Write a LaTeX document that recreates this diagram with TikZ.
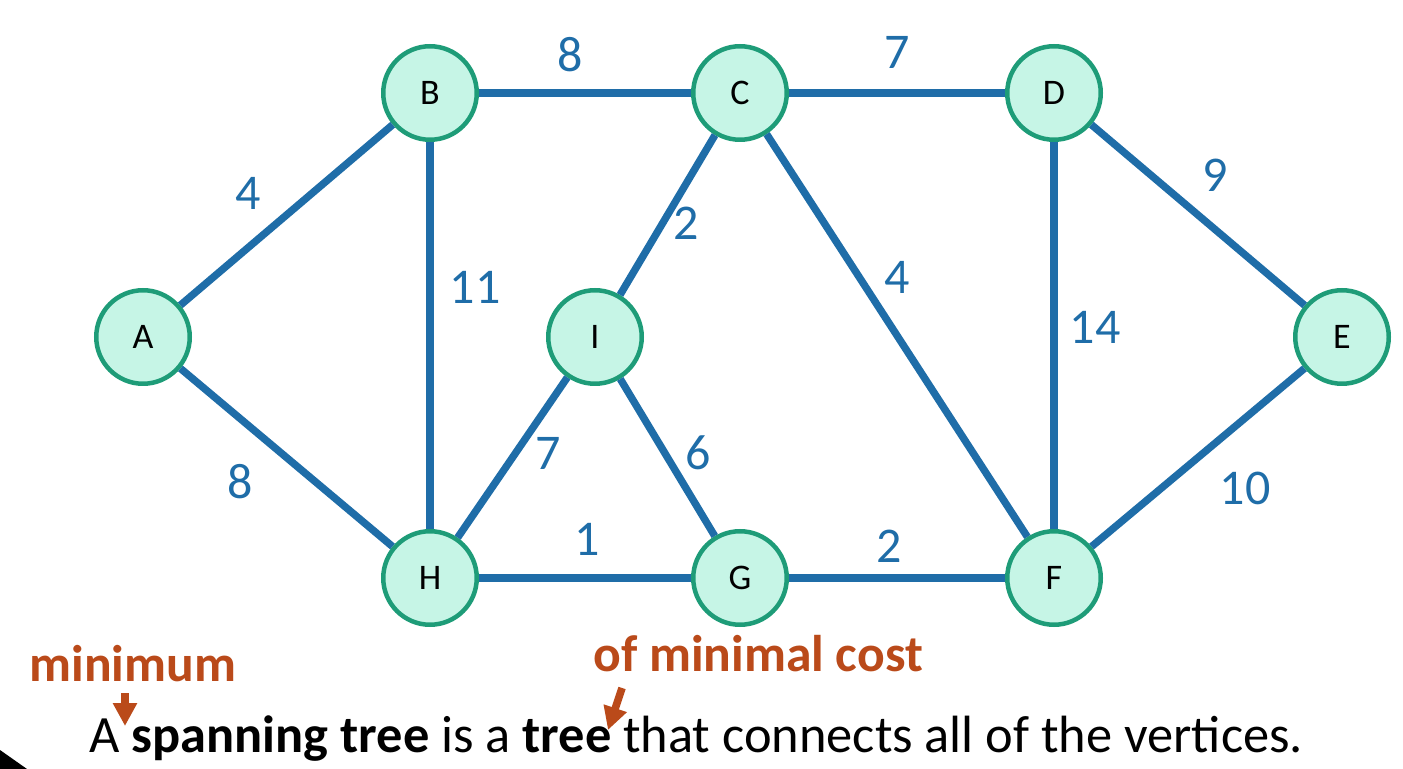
\documentclass[tikz,border=0pt]{standalone}
\usepackage{fontspec}
\setmainfont{Carlito}
\usetikzlibrary{arrows.meta}
\definecolor{edgeblue}{HTML}{1F6DA8}
\definecolor{nodefill}{HTML}{C6F5E6}
\definecolor{nodeline}{HTML}{1E9C78}
\definecolor{rust}{HTML}{BA4A1A}

\begin{document}
\begin{tikzpicture}[x=0.5pt,y=-0.5pt,
  vertex/.style={circle,fill=nodefill,draw=nodeline,line width=2.25pt,
    minimum size=46.75pt,inner sep=0pt,font=\fontsize{18}{18}\selectfont},
  edge/.style={edgeblue,line width=3.7pt},
  weight/.style={edgeblue,inner sep=0pt,font=\fontsize{25}{25}\selectfont},
  note/.style={rust,inner sep=0pt,anchor=base west,font=\fontsize{25.8}{25.8}\selectfont\bfseries},
  pointer/.style={rust,line width=3.8pt,-{Triangle[width=11.5pt,length=11.5pt]}}]
\useasboundingbox (0,0) rectangle (1403,769);

% vertices
\foreach \name/\x/\y in {A/143/337, B/430/93, C/740/93, D/1054/93, E/1342/337,
  I/595/337, H/430/578, G/740/578, F/1054/578} {
  \node[vertex] (\name) at (\x,\y) {\name};
}

% edges
\foreach \u/\v in {A/B, A/H, B/C, B/H, C/D, C/I, C/F, D/E, D/F, E/F, I/H, I/G, H/G, G/F} {
  \draw[edge] (\u) -- (\v);
}

% weights
\foreach \x/\y/\w/\lab in {248/193/4/wab, 240/482/8/wah, 570/55/8/wbc, 475/287/11/wbh,
  897/52/7/wcd, 686/223/2/wci, 897/277/4/wcf, 1215/175/9/wde, 1095/327/14/wdf,
  1245/488/10/wef, 548/453/7/wih, 698/453/6/wig, 587/539/1/whg, 889/546/2/wgf} {
  \node[weight] (\lab) at (\x,\y) {\w};
}

% caption
\fill (0,750) -- (27,769) -- (0,769) -- cycle;
\node[inner sep=0pt,anchor=base west,font=\fontsize{26.2}{26.2}\selectfont] (text) at (89,752)
  {A \textbf{spanning tree} is a \textbf{tree} that connects all of the vertices.};
\node[note] (minimum) at (29,682) {minimum};
\node[note] (mincost) at (593,672) {of minimal cost};
\coordinate (p1) at (125,693);
\coordinate (q1) at (125,726);
\coordinate (p2) at (622,688);
\coordinate (q2) at (608,730);
\draw[pointer] (p1) -- (q1);
\draw[pointer] (p2) -- (q2);
\end{tikzpicture}
\end{document}
